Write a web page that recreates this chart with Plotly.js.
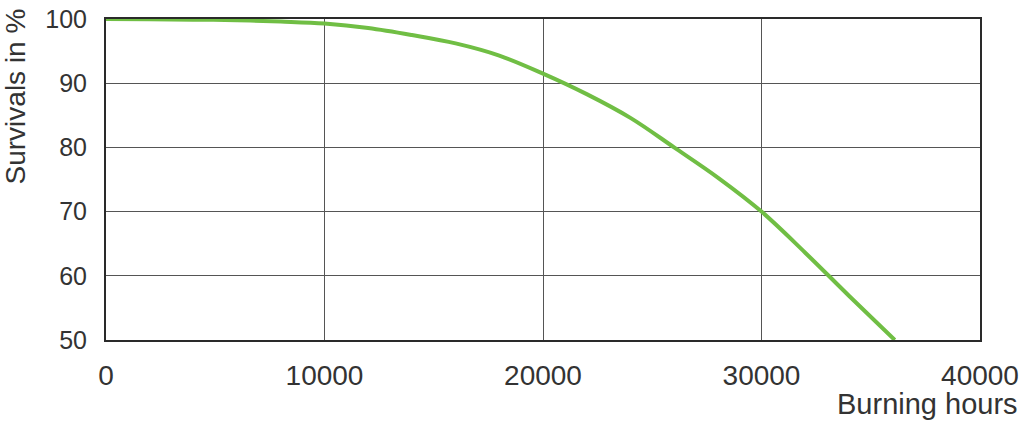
<!DOCTYPE html>
<html>
<head>
<meta charset="utf-8">
<script src="https://cdn.plot.ly/plotly-3.0.1.min.js"></script>
<style>
html,body{margin:0;padding:0;background:#fff;}
#chart{width:1024px;height:422px;}
</style>
</head>
<body>
<div id="chart"></div>
<script>
// Burning hours (x) and survival percentage (y)
const burningHours = [0, 2000, 4000, 6000, 8000, 10000, 12000, 14000, 16000, 18000, 20000, 22000, 24000, 26000, 28000, 30000, 32000, 34000, 36100];
const survivals    = [100, 99.95, 99.9, 99.8, 99.6, 99.3, 98.6, 97.5, 96.2, 94.3, 91.5, 88.3, 84.6, 80.0, 75.3, 70.0, 63.6, 56.9, 50.0];
const xTicks = [0, 10000, 20000, 30000, 40000];
const yTicks = [50, 60, 70, 80, 90, 100];
const xLabel = 'Burning hours';
const yLabel = 'Survivals in %';

const font = 'Liberation Sans, Arial, Helvetica, sans-serif';
const textColor = '#333333';

const trace = {
  x: burningHours,
  y: survivals,
  type: 'scatter',
  mode: 'lines',
  line: {color: '#70be44', width: 4, shape: 'spline', smoothing: 1},
  hoverinfo: 'x+y',
  cliponaxis: false
};

const layout = {
  width: 1024,
  height: 422,
  margin: {l: 106, r: 44, t: 19, b: 82},
  paper_bgcolor: '#ffffff',
  plot_bgcolor: '#ffffff',
  showlegend: false,
  font: {family: font, color: textColor},
  xaxis: {
    range: [0, 40000],
    tickvals: xTicks,
    ticktext: xTicks.map(String),
    tickfont: {family: font, size: 28, color: textColor},
    ticks: 'outside', ticklen: 9, tickcolor: 'rgba(0,0,0,0)',
    showgrid: true, gridcolor: '#555555', gridwidth: 1,
    showline: true, linecolor: '#2a2a2a', linewidth: 2, mirror: true,
    zeroline: false,
    fixedrange: true
  },
  yaxis: {
    range: [50, 100],
    tickvals: yTicks,
    ticktext: yTicks.map(String),
    tickfont: {family: font, size: 25, color: textColor},
    ticks: 'outside', ticklen: 12, tickcolor: 'rgba(0,0,0,0)',
    showgrid: true, gridcolor: '#555555', gridwidth: 1,
    showline: true, linecolor: '#2a2a2a', linewidth: 2, mirror: true,
    zeroline: false,
    fixedrange: true
  },
  annotations: [
    {
      text: xLabel, xref: 'paper', yref: 'paper',
      x: 1.0458, y: -0.1994, xanchor: 'right', yanchor: 'middle',
      showarrow: false, font: {family: font, size: 29, color: textColor}
    },
    {
      text: yLabel, xref: 'paper', yref: 'paper',
      x: -0.1030, y: 0.7586, xanchor: 'center', yanchor: 'middle',
      textangle: -90,
      showarrow: false, font: {family: font, size: 28, color: textColor}
    }
  ]
};

Plotly.newPlot('chart', [trace], layout, {displayModeBar: false, staticPlot: true});
</script>
</body>
</html>
